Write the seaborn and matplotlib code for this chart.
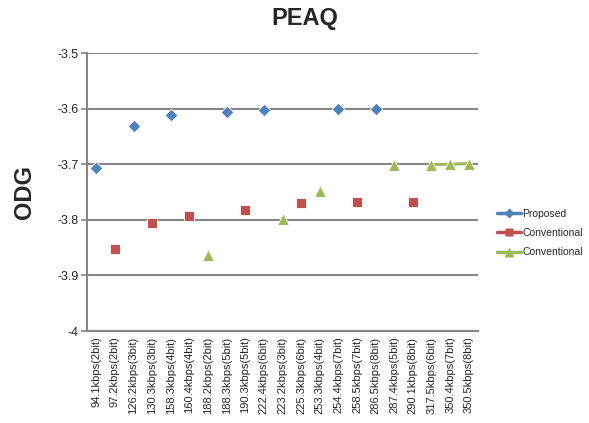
import numpy as np
import pandas as pd
import matplotlib
matplotlib.use('Agg')
import matplotlib.pyplot as plt
import seaborn as sns
from matplotlib.lines import Line2D

# categories on the x axis
labels = ['94.1kbps(2bit)', '97.2kbps(2bit)', '126.2kbps(3bit)', '130.3kbps(3bit)',
          '158.3kbps(4bit)', '160.4kbps(4bit)', '188.2kbps(2bit)', '188.3kbps(5bit)',
          '190.3kbps(5bit)', '222.4kbps(6bit)', '223.2kbps(3bit)', '225.3kbps(6bit)',
          '253.3kbps(4bit)', '254.4kbps(7bit)', '258.5kbps(7bit)', '286.5kbps(8bit)',
          '287.4kbps(5bit)', '290.1kbps(8bit)', '317.5kbps(6bit)', '350.4kbps(7bit)',
          '350.5kbps(8bit)']

nan = np.nan
proposed = [-3.707, nan, -3.632, nan, -3.612, nan, nan, -3.606, nan, -3.602, nan, nan,
            nan, -3.600, nan, -3.600, nan, nan, nan, nan, nan]
conv_red = [nan, -3.852, nan, -3.806, nan, -3.793, nan, nan, -3.782, nan, nan, -3.770,
            nan, nan, -3.768, nan, nan, -3.768, nan, nan, nan]
conv_green = [nan, nan, nan, nan, nan, nan, -3.863, nan, nan, nan, -3.799, nan,
              -3.748, nan, nan, nan, -3.701, nan, -3.701, -3.700, -3.699]

legend_names = ['Proposed', 'Conventional', 'Conventional']
colors = ['#4F81BD', '#C0504D', '#9BBB59']
markers = ['D', 's', '^']
sizes = [6.5, 7.5, 8.5]

sns.set_style('white')
plt.rcParams['font.family'] = ['Liberation Sans', 'DejaVu Sans']

fig = plt.figure(figsize=(5.89, 4.23), dpi=100)
ax = fig.add_axes([87/589, 1-331/423, (478-87)/589, (331-53)/423])

x = np.arange(len(labels))
all_vals = [proposed, conv_red, conv_green]
for i in range(3):
    df = pd.DataFrame({'x': x, 'y': all_vals[i]}).dropna()
    # lines only join neighbouring points (gaps stay gaps)
    ax.plot(x, all_vals[i], color=colors[i], linewidth=2.2, zorder=2)
    sns.scatterplot(data=df, x='x', y='y', ax=ax, marker=markers[i], color=colors[i],
                    s=sizes[i]**2, edgecolor='white', linewidth=0.6, zorder=3, legend=False)

ax.set_ylim(-4, -3.5)
ax.set_yticks([-4, -3.9, -3.8, -3.7, -3.6, -3.5])
ax.set_yticklabels(['-4', '-3.9', '-3.8', '-3.7', '-3.6', '-3.5'], fontsize=9)
ax.set_xlim(-0.5, len(labels) - 0.5)
ax.set_xticks(x)
ax.set_xticklabels(labels, rotation=90, fontsize=8)
ax.set_xlabel('')
ax.set_ylabel('')

ax.grid(axis='y', color='#868686', linewidth=1.5)
ax.set_axisbelow(True)
for s in ['top', 'right']:
    ax.spines[s].set_visible(False)
for s in ['left', 'bottom']:
    ax.spines[s].set_color('#868686')
    ax.spines[s].set_linewidth(1.5)
ax.tick_params(axis='y', length=4, width=1.2, color='#868686', pad=2, left=True)
ax.tick_params(axis='x', length=0, pad=4)

fig.text(305/589, 1-18/423, 'PEAQ', ha='center', va='center', fontsize=17, fontweight='bold')
fig.text(25/589, 1-192/423, 'ODG', ha='center', va='center', fontsize=17, fontweight='bold',
         rotation=90)

handles = []
for i in range(3):
    handles.append(Line2D([0], [0], color=colors[i], marker=markers[i], markersize=sizes[i] - 1.5,
                          linewidth=2.5, markeredgecolor='none'))
fig.legend(handles, legend_names, loc='center left',
           bbox_to_anchor=(488/589, 1-233/423), frameon=False, fontsize=7.5,
           handlelength=2.3, handletextpad=0.1, labelspacing=0.9)

plt.savefig('out.png', dpi=100)
